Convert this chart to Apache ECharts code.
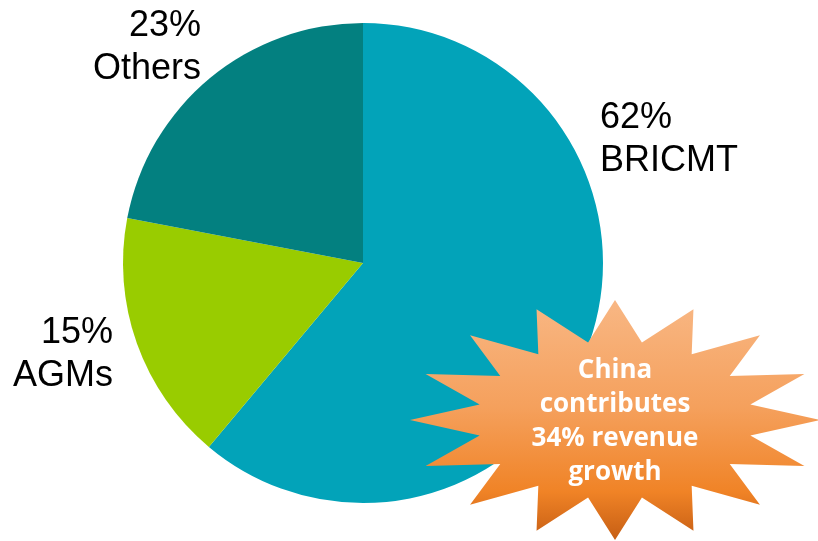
<!DOCTYPE html>
<html>
<head>
<meta charset="utf-8">
<script src="https://cdn.jsdelivr.net/npm/echarts@6/dist/echarts.min.js"></script>
<style>
  html, body { margin: 0; padding: 0; background: #fff; }
  #chart { width: 818px; height: 541px; }
</style>
</head>
<body>
<div id="chart"></div>
<script>
// data
const regions = ['BRICMT', 'AGMs', 'Others'];
const sliceShares = [61.1, 16.9, 22.0];
// percentages as printed on the labels
const labelPercents = ['62%', '15%', '23%'];
const sliceColors = ['#02A3B9', '#99CC00', '#038080'];
const calloutLines = ['China', 'contributes', '34% revenue', 'growth'];

// where each label sits (x, y, align)
const labelSpots = [
    { x: 600, y: 140, align: 'left' },
    { x: 113, y: 355, align: 'right' },
    { x: 201, y: 48, align: 'right' }
];

const chart = echarts.init(document.getElementById('chart'));

// starburst shape behind the callout text
function starPoints(cx, cy, rx, ry, irx, iry, n) {
    const pts = [];
    for (let i = 0; i < n * 2; i++) {
        const a = Math.PI * i / n;
        const outer = i % 2 === 0;
        pts.push([
            cx + Math.sin(a) * (outer ? rx : irx),
            cy - Math.cos(a) * (outer ? ry : iry)
        ]);
    }
    return pts;
}

const option = {
    animation: false,
    series: [
        {
            type: 'pie',
            center: [363, 263],
            radius: 240,
            startAngle: 90,
            clockwise: true,
            data: regions.map((name, i) => ({
                name: name,
                value: sliceShares[i],
                itemStyle: { color: sliceColors[i] }
            })),
            label: {
                show: true,
                position: 'outside',
                formatter: p => labelPercents[p.dataIndex] + '\n' + p.name,
                fontFamily: '"Liberation Sans", Arial, sans-serif',
                fontSize: 36,
                lineHeight: 43,
                color: '#000',
                overflow: 'none'
            },
            labelLine: { show: false },
            labelLayout: params => {
                const s = labelSpots[params.dataIndex];
                return { x: s.x, y: s.y, align: s.align, verticalAlign: 'middle' };
            }
        }
    ],
    graphic: [
        {
            type: 'polygon',
            shape: { points: starPoints(615, 420, 205, 120, 138, 79, 16) },
            style: {
                fill: new echarts.graphic.LinearGradient(0, 0, 0, 1, [
                    { offset: 0, color: '#F8B784' },
                    { offset: 0.45, color: '#F5A05C' },
                    { offset: 0.8, color: '#F08326' },
                    { offset: 1, color: '#C65E14' }
                ])
            },
            z: 10
        },
        {
            type: 'text',
            x: 615,
            y: 422,
            style: {
                text: calloutLines.join('\n'),
                font: 'bold 26px "Open Sans", sans-serif',
                lineHeight: 34,
                fill: '#fff',
                align: 'center',
                verticalAlign: 'middle'
            },
            z: 11
        }
    ]
};

chart.setOption(option);
</script>
</body>
</html>
